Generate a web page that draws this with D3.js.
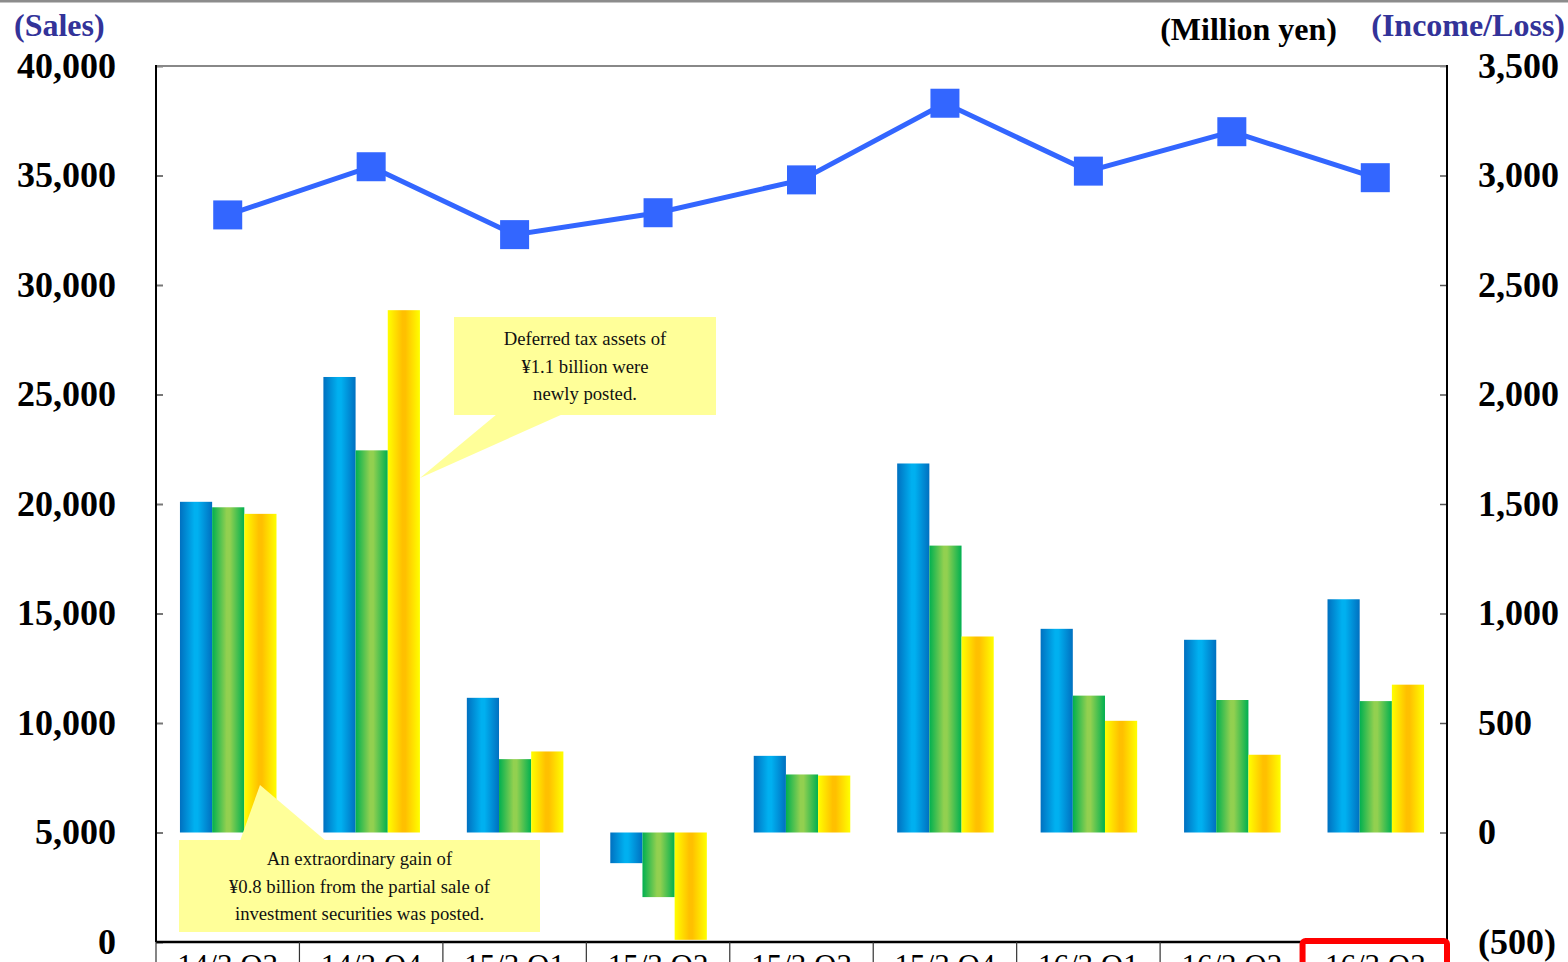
<!DOCTYPE html>
<html>
<head>
<meta charset="utf-8">
<script src="https://cdn.jsdelivr.net/npm/d3@7"></script>
<style>
  body { margin: 0; background: #fff; }
  svg { display: block; font-family: "Liberation Serif", "Times New Roman", serif; }
</style>
</head>
<body>
<svg id="chart"></svg>
<script>
// Data

let quarters = ['14/3 Q3', '14/3 Q4', '15/3 Q1', '15/3 Q2', '15/3 Q3', '15/3 Q4', '16/3 Q1', '16/3 Q2', '16/3 Q3']
let sales = [33200, 35400, 32300, 33300, 34800, 38300, 35200, 37000, 34900]
let operatingIncome = [1510, 2080, 615, -140, 350, 1685, 930, 880, 1065]
let ordinaryIncome = [1485, 1745, 335, -295, 265, 1310, 625, 605, 600]
let netIncome = [1455, 2385, 370, -490, 260, 895, 510, 355, 675]
let salesTicks = [0, 5000, 10000, 15000, 20000, 25000, 30000, 35000, 40000]
let incomeTicks = [-500, 0, 500, 1000, 1500, 2000, 2500, 3000, 3500]

let noteTax = ['Deferred tax assets of', '¥1.1 billion were', 'newly posted.']
let noteGain = ['An extraordinary gain of', '¥0.8 billion from the partial sale of', 'investment securities was posted.']

// Canvas

let width = 1568
let height = 962
let plotLeft = 156
let plotRight = 1447
let plotTop = 66
let plotBottom = 942

let svg = d3.select('#chart')
svg.attr('width', width).attr('height', height)

// Gradients for the bars

let defs = svg.append('defs')
let gradients = [
    {id: 'gBlue', edge: '#0070c0', mid: '#00b0f0'},
    {id: 'gGreen', edge: '#00b050', mid: '#92d050'},
    {id: 'gYellow', edge: '#ffff00', mid: '#ffc000'}
]
gradients.forEach((g) => {
    let lg = defs.append('linearGradient')
        .attr('id', g.id)
        .attr('x1', '0%').attr('x2', '100%')
        .attr('y1', '0%').attr('y2', '0%')
    lg.append('stop').attr('offset', '0%').attr('stop-color', g.edge)
    lg.append('stop').attr('offset', '45%').attr('stop-color', g.mid)
    lg.append('stop').attr('offset', '55%').attr('stop-color', g.mid)
    lg.append('stop').attr('offset', '100%').attr('stop-color', g.edge)
})

// Scales

let xScale = d3.scaleBand()
    .domain(quarters)
    .range([plotLeft, plotRight])

let series = [
    {key: 'op', values: operatingIncome, fill: 'url(#gBlue)'},
    {key: 'ord', values: ordinaryIncome, fill: 'url(#gGreen)'},
    {key: 'net', values: netIncome, fill: 'url(#gYellow)'}
]

let xSub = d3.scaleBand()
    .domain(series.map((s) => s.key))
    .range([xScale.bandwidth() * 0.167, xScale.bandwidth() * 0.84])

let ySales = d3.scaleLinear().domain([0, 40000]).range([plotBottom, plotTop])
let yIncome = d3.scaleLinear().domain([-500, 3500]).range([plotBottom, plotTop])

// Top rule

svg.append('line')
    .attr('x1', 0).attr('x2', width)
    .attr('y1', 1).attr('y2', 1)
    .attr('stroke', '#8c8c8c')
    .attr('stroke-width', 3)

// Bars

series.forEach((s) => {
    svg.append('g')
        .selectAll('rect')
        .data(s.values)
        .enter()
        .append('rect')
        .attr('x', (d, i) => xScale(quarters[i]) + xSub(s.key))
        .attr('width', xSub.bandwidth())
        .attr('y', (d) => yIncome(Math.max(0, d)))
        .attr('height', (d) => Math.abs(yIncome(d) - yIncome(0)))
        .attr('fill', s.fill)
})

// Axes

let fmtIncome = (d) => d < 0 ? '(' + d3.format(',')(-d) + ')' : d3.format(',')(d)

let leftAxis = d3.axisRight(ySales)
    .tickValues(salesTicks)
    .tickSize(7)
    .tickFormat('')
let gl = svg.append('g')
    .attr('transform', 'translate(' + plotLeft + ',0)')
    .call(leftAxis)
gl.select('.domain').remove()
gl.selectAll('line').attr('stroke', '#777').attr('stroke-width', 2)

let rightAxis = d3.axisLeft(yIncome)
    .tickValues(incomeTicks)
    .tickSize(7)
    .tickFormat('')
let gr = svg.append('g')
    .attr('transform', 'translate(' + plotRight + ',0)')
    .call(rightAxis)
gr.select('.domain').remove()
gr.selectAll('line').attr('stroke', '#555').attr('stroke-width', 1.5)

svg.append('g')
    .selectAll('text')
    .data(salesTicks)
    .enter()
    .append('text')
    .attr('x', 116)
    .attr('y', (d) => ySales(d))
    .attr('dy', '0.33em')
    .attr('text-anchor', 'end')
    .attr('font-size', 36)
    .attr('font-weight', 'bold')
    .text((d) => d3.format(',')(d))

svg.append('g')
    .selectAll('text')
    .data(incomeTicks)
    .enter()
    .append('text')
    .attr('x', 1478)
    .attr('y', (d) => yIncome(d))
    .attr('dy', '0.33em')
    .attr('text-anchor', 'start')
    .attr('font-size', 36)
    .attr('font-weight', 'bold')
    .text(fmtIncome)

// Plot frame

svg.append('line').attr('x1', plotLeft).attr('x2', plotRight).attr('y1', plotTop).attr('y2', plotTop)
    .attr('stroke', '#888').attr('stroke-width', 2)
svg.append('line').attr('x1', plotLeft).attr('x2', plotLeft).attr('y1', plotTop - 1).attr('y2', plotBottom)
    .attr('stroke', '#000').attr('stroke-width', 2)
svg.append('line').attr('x1', plotRight).attr('x2', plotRight).attr('y1', plotTop - 1).attr('y2', plotBottom)
    .attr('stroke', '#000').attr('stroke-width', 2)
svg.append('line').attr('x1', plotLeft).attr('x2', plotRight).attr('y1', plotBottom).attr('y2', plotBottom)
    .attr('stroke', '#000').attr('stroke-width', 2.5)

// Category table under the plot

svg.append('g')
    .selectAll('line')
    .data(quarters.concat(['end']))
    .enter()
    .append('line')
    .attr('x1', (d, i) => i < quarters.length ? xScale(d) : plotRight)
    .attr('x2', (d, i) => i < quarters.length ? xScale(d) : plotRight)
    .attr('y1', plotBottom)
    .attr('y2', height)
    .attr('stroke', '#333')
    .attr('stroke-width', 1.2)

svg.append('g')
    .selectAll('text')
    .data(quarters)
    .enter()
    .append('text')
    .attr('x', (d) => xScale(d) + xScale.bandwidth() / 2)
    .attr('y', 976)
    .attr('text-anchor', 'middle')
    .attr('font-size', 31)
    .text((d) => d)

let last = quarters[quarters.length - 1]
svg.append('rect')
    .attr('x', xScale(last) - 1)
    .attr('y', 941)
    .attr('width', xScale.bandwidth() + 1)
    .attr('height', 40)
    .attr('rx', 3)
    .attr('fill', 'none')
    .attr('stroke', '#ff0000')
    .attr('stroke-width', 6)

// Sales line

let line = d3.line()
    .x((d, i) => xScale(quarters[i]) + xScale.bandwidth() / 2)
    .y((d) => ySales(d))

svg.append('path')
    .datum(sales)
    .attr('d', line)
    .attr('fill', 'none')
    .attr('stroke', '#3366ff')
    .attr('stroke-width', 5)

let markerSize = 29
svg.append('g')
    .selectAll('rect')
    .data(sales)
    .enter()
    .append('rect')
    .attr('x', (d, i) => xScale(quarters[i]) + xScale.bandwidth() / 2 - markerSize / 2)
    .attr('y', (d) => ySales(d) - markerSize / 2)
    .attr('width', markerSize)
    .attr('height', markerSize)
    .attr('fill', '#3366ff')

// Callouts

let drawCallout = (box, pointer, lines, lineStep) => {
    let g = svg.append('g')
    g.append('polygon')
        .attr('points', pointer.map((p) => p.join(',')).join(' '))
        .attr('fill', '#ffff99')
    g.append('rect')
        .attr('x', box.x).attr('y', box.y)
        .attr('width', box.w).attr('height', box.h)
        .attr('fill', '#ffff99')
    g.selectAll('text')
        .data(lines)
        .enter()
        .append('text')
        .attr('x', box.x + box.w / 2)
        .attr('y', (d, i) => box.y + box.h / 2 + (i - 1) * lineStep)
        .attr('dy', '0.35em')
        .attr('text-anchor', 'middle')
        .attr('font-size', 18.7)
        .attr('fill', '#111')
        .text((d) => d)
}

drawCallout({x: 454, y: 317, w: 262, h: 98}, [[497, 414], [563, 414], [420, 478]], noteTax, 27.5)
drawCallout({x: 179, y: 840, w: 361, h: 92}, [[240, 841], [326, 841], [260, 785]], noteGain, 27.5)

// Axis titles

svg.append('text')
    .attr('x', 14).attr('y', 36)
    .attr('font-size', 32).attr('font-weight', 'bold')
    .attr('fill', '#333399')
    .text('(Sales)')

svg.append('text')
    .attr('x', 1337).attr('y', 40)
    .attr('text-anchor', 'end')
    .attr('font-size', 32).attr('font-weight', 'bold')
    .attr('fill', '#000')
    .text('(Million yen)')

svg.append('text')
    .attr('x', 1565).attr('y', 36)
    .attr('text-anchor', 'end')
    .attr('font-size', 32).attr('font-weight', 'bold')
    .attr('fill', '#333399')
    .text('(Income/Loss)')
</script>
</body>
</html>
